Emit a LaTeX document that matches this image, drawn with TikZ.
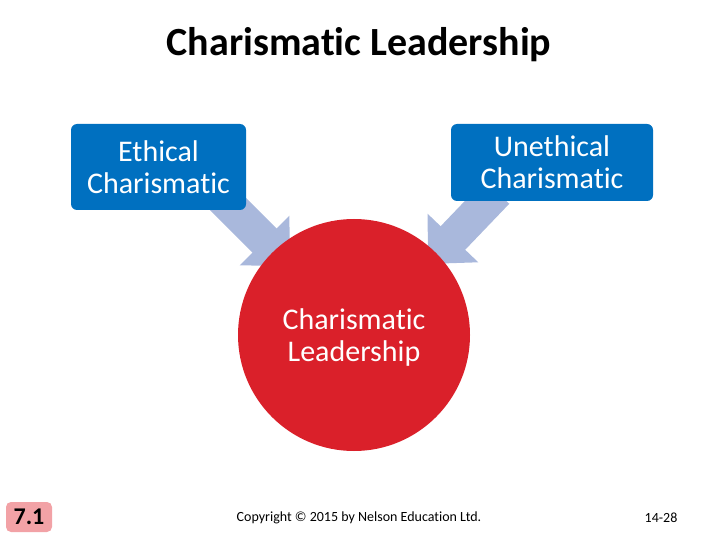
\documentclass[tikz,border=0pt]{standalone}
\usepackage{fontspec}
\setmainfont{Carlito}[Ligatures=NoCommon]
\usetikzlibrary{arrows.meta}
\definecolor{boxblue}{RGB}{0,112,192}
\definecolor{circred}{RGB}{218,32,42}
\definecolor{arrowblue}{RGB}{169,184,220}
\definecolor{tagpink}{RGB}{242,162,166}
\tikzset{
  catbox/.style={draw=none, fill=boxblue, rounded corners=6pt, text=white, align=center, font=\fontsize{30}{32}\selectfont, inner sep=0pt},
  blockarrow/.style={draw=arrowblue, line width=34pt, -{Triangle[width=68pt,length=36pt]}, arrowblue},
  footer/.style={font=\fontsize{14}{16}\selectfont, inner sep=0pt}
}
\begin{document}
\begin{tikzpicture}[x=1pt,y=-1pt]
\useasboundingbox (0,0) rectangle (720,540);
\node (title) at (359,45) {\fontsize{40}{46}\selectfont\bfseries Charismatic Leadership};
% arrows (behind)
\coordinate (la) at (220,196);
\coordinate (lt) at (290,266);
\coordinate (ra) at (497,192);
\coordinate (rt) at (428,264);
\draw[blockarrow] (la) -- (lt);
\draw[blockarrow] (ra) -- (rt);
% circle
\node[circle, fill=circred, minimum size=232pt, inner sep=0pt] (lead) at (354,335) {};
\node[text=white, align=center, font=\fontsize{30}{32}\selectfont, inner sep=0pt] (leadtext) at (354,338) {Charismatic\\Leadership};
% boxes
\node[catbox, minimum width=175pt, minimum height=86pt] (eth) at (158.5,167) {Ethical\\Charismatic};
\node[catbox, minimum width=202pt, minimum height=77pt] (uneth) at (552,162.5) {Unethical\\Charismatic};
% footer
\node[fill=tagpink, rounded corners=5pt, minimum width=46pt, minimum height=30pt, inner sep=0pt, font=\fontsize{24}{28}\selectfont\bfseries] (tag) at (29,517) {7.1};
\node[footer] (copy) at (359,518) {Copyright © 2015 by Nelson Education Ltd.};
\node[footer] (page) at (661,518) {14-28};
\end{tikzpicture}
\end{document}
